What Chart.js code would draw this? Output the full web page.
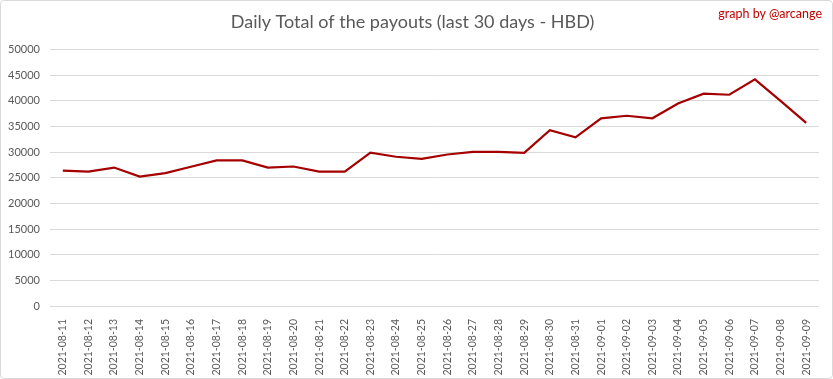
<!DOCTYPE html>
<html><head><meta charset="utf-8">
<script src="https://cdn.jsdelivr.net/npm/chart.js@4"></script>
<style>
html,body{margin:0;padding:0;background:#fff;}
#wrap{position:relative;width:833px;height:379px;}
#frame{position:absolute;left:0;top:0;width:831px;height:377px;border:1px solid #d9d9d9;border-radius:4px;pointer-events:none;}
#credit{position:absolute;right:11px;top:6px;font-family:Lato,"Open Sans",sans-serif;font-size:12.5px;color:#c00000;}
</style></head>
<body>
<div id="wrap"><canvas id="c" width="833" height="379"></canvas><div id="frame"></div><div id="credit">graph by @arcange</div></div>
<script>
const dates = ["2021-08-11","2021-08-12","2021-08-13","2021-08-14","2021-08-15","2021-08-16","2021-08-17","2021-08-18","2021-08-19","2021-08-20","2021-08-21","2021-08-22","2021-08-23","2021-08-24","2021-08-25","2021-08-26","2021-08-27","2021-08-28","2021-08-29","2021-08-30","2021-08-31","2021-09-01","2021-09-02","2021-09-03","2021-09-04","2021-09-05","2021-09-06","2021-09-07","2021-09-08","2021-09-09"];
const payouts = [26400,26200,27000,25250,25900,27150,28400,28400,27000,27200,26200,26200,29900,29100,28700,29550,30050,30050,29850,34300,32900,36600,37100,36600,39500,41400,41200,44200,40000,35700];
const titleText = "Daily Total of the payouts (last 30 days - HBD)";
const yTickStep = 5000;
const yMax = 50000;

new Chart(document.getElementById('c'), {
  type: 'line',
  data: { labels: dates, datasets: [{ data: payouts, borderColor: '#a50000', borderWidth: 2.2, pointRadius: 0, tension: 0, fill: false }] },
  options: {
    responsive: false, animation: false,
    layout: { padding: { left: 6, right: 14, top: 0, bottom: 3 } },
    plugins: {
      legend: { display: false }, tooltip: { enabled: false },
      title: { display: true, text: titleText, color: '#595959', font: { family: 'Lato, "Open Sans", sans-serif', size: 18, weight: 'normal' }, padding: { top: 11, bottom: 17 } }
    },
    scales: {
      x: {
        offset: true,
        grid: { display: false },
        border: { display: false },
        ticks: { maxRotation: 90, minRotation: 90, autoSkip: false, color: '#595959', font: { family: 'Lato, "Open Sans", sans-serif', size: 10.5 }, padding: 5 },
        afterFit: s => { s.height = 70; }
      },
      y: {
        min: 0, max: yMax,
        grid: { color: '#d9d9d9', drawTicks: false, lineWidth: 1 },
        border: { display: false },
        ticks: { stepSize: yTickStep, color: '#595959', font: { family: 'Lato, "Open Sans", sans-serif', size: 11 }, padding: 10, callback: v => String(v) },
        afterFit: s => { s.width = 44; }
      }
    }
  }
});
</script>
</body></html>
